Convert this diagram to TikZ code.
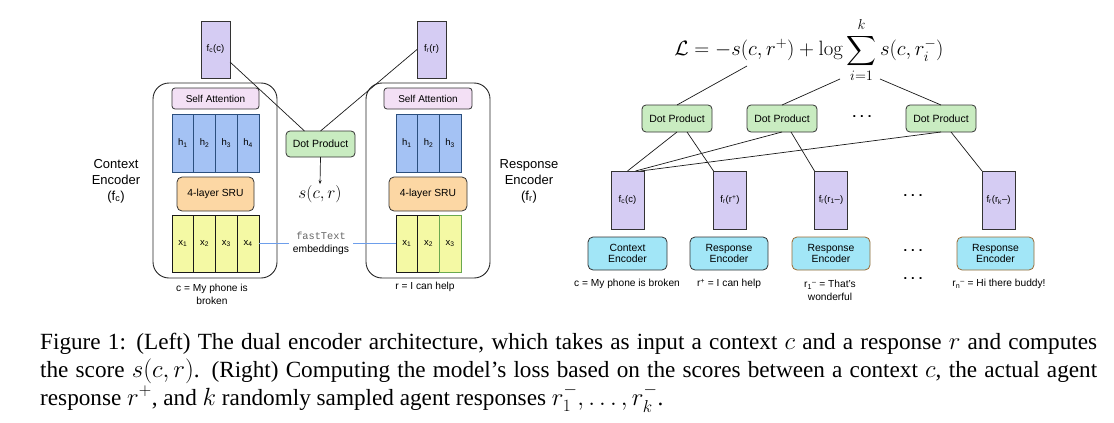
\documentclass[tikz,border=0pt]{standalone}
\usepackage{exscale}
\usepackage[no-math]{fontspec}
\setmainfont{Liberation Serif}
\setsansfont{Liberation Sans}
\setmonofont{Liberation Mono}
\usetikzlibrary{arrows.meta,calc}
\definecolor{vpurple}{HTML}{D5CCF3}
\definecolor{dpgreen}{HTML}{C9ECC1}
\definecolor{enccyan}{HTML}{A2E6F7}
\definecolor{sapink}{HTML}{F3E0F5}
\definecolor{hfill}{HTML}{A4C2F4}
\definecolor{hborder}{HTML}{2B4F7E}
\definecolor{sruorange}{HTML}{FCD7A4}
\definecolor{xyellow}{HTML}{F4F9A4}
\definecolor{brownb}{HTML}{9A6B34}
\definecolor{ftblue}{HTML}{6D9EEB}
\definecolor{xgreen}{HTML}{6AA84F}
\begin{document}
\begin{tikzpicture}[x=1pt,y=-1pt,
  bx/.style={draw=black!80,line width=0.8pt,inner sep=0pt,outer sep=0pt,align=center,font=\sffamily\fontsize{9.5}{11}\selectfont},
  vecbox/.style={bx,fill=vpurple,minimum width=29pt,minimum height=57pt},
  vecboxr/.style={bx,fill=vpurple,minimum width=33pt,minimum height=58pt},
  outerbox/.style={draw=black!85,line width=0.9pt,rounded corners=16pt,minimum width=124pt,minimum height=195pt,inner sep=0pt,outer sep=0pt},
  dotbox/.style={bx,rounded corners=4pt,fill=dpgreen,minimum width=69pt,minimum height=26pt,font=\sffamily\fontsize{10.5}{12}\selectfont},
  dotboxr/.style={dotbox,minimum width=70pt,minimum height=27pt},
  sabox/.style={bx,rounded corners=3pt,fill=sapink,minimum width=87pt,minimum height=21pt,font=\sffamily\fontsize{10}{12}\selectfont},
  srubox/.style={bx,rounded corners=5pt,fill=sruorange,minimum width=77pt,minimum height=34pt,font=\sffamily\fontsize{10.3}{12}\selectfont},
  hcell/.style={bx,draw=hborder,fill=hfill,minimum width=21.75pt,minimum height=58pt},
  xcell/.style={bx,draw=black!90,fill=xyellow,minimum width=21.75pt,minimum height=57pt},
  encbox/.style={bx,rounded corners=5pt,fill=enccyan,minimum width=78pt,minimum height=33pt,font=\sffamily\fontsize{10.4}{11.7}\selectfont},
  lbl/.style={inner sep=0pt,align=center,font=\sffamily\fontsize{10.2}{13}\selectfont},
  biglbl/.style={inner sep=0pt,align=center,font=\sffamily\fontsize{13}{16}\selectfont},
  dotsnode/.style={inner sep=0pt,font=\sffamily\bfseries\fontsize{13}{13}\selectfont},
  conn/.style={draw=black!90,line width=0.7pt},
  caption/.style={inner sep=0pt,anchor=base west,font=\rmfamily\fontsize{23.2}{28}\selectfont}
]
\useasboundingbox (0,0) rectangle (1114,423);

% ---------------- Left: dual encoder ----------------
\node[outerbox] (encL) at (215,180.5) {};
\node[outerbox] (encR) at (428,180.5) {};

\node[vecbox] (fcL) at (215.5,49.5) {f\textsubscript{c}(c)};
\node[vecbox] (frL) at (431.5,49.5) {f\textsubscript{r}(r)};

\node[sabox] (saL) at (215.5,98.5) {Self Attention};
\node[hcell] (hL1) at (182.875,143) {h\textsubscript{1}};
\node[hcell] (hL2) at (204.625,143) {h\textsubscript{2}};
\node[hcell] (hL3) at (226.375,143) {h\textsubscript{3}};
\node[hcell] (hL4) at (248.125,143) {h\textsubscript{4}};
\node[srubox] (sruL) at (215.5,194) {4-layer SRU};
\node[xcell] (xL1) at (182.875,243.5) {x\textsubscript{1}};
\node[xcell] (xL2) at (204.625,243.5) {x\textsubscript{2}};
\node[xcell] (xL3) at (226.375,243.5) {x\textsubscript{3}};
\node[xcell] (xL4) at (248.125,243.5) {x\textsubscript{4}};

\node[sabox,minimum width=88pt] (saR) at (428,98.5) {Self Attention};
\node[hcell,minimum width=21.67pt] (hR1) at (406.83,143) {h\textsubscript{1}};
\node[hcell,minimum width=21.67pt] (hR2) at (428.5,143) {h\textsubscript{2}};
\node[hcell,minimum width=21.67pt] (hR3) at (450.17,143) {h\textsubscript{3}};
\node[srubox,minimum width=78pt] (sruR) at (428,194) {4-layer SRU};
\node[xcell,minimum width=21.67pt] (xR1) at (406.83,243.5) {x\textsubscript{1}};
\node[xcell,minimum width=21.67pt] (xR2) at (428.5,243.5) {x\textsubscript{2}};
\node[xcell,minimum width=21.67pt,draw=xgreen] (xR3) at (450.17,243.5) {x\textsubscript{3}};

\node[biglbl] (ctxlbl) at (116,181) {Context\\Encoder\\(f\textsubscript{c})};
\node[biglbl] (rsplbl) at (529,181) {Response\\Encoder\\(f\textsubscript{r})};
\node[lbl] (cLtxt) at (212,294) {c = My phone is\\broken};
\node[lbl] (rLtxt) at (425,287) {r = I can help};

\node[dotbox] (dpL) at (320.5,144) {Dot Product};
\node[inner sep=1pt,font=\fontsize{18}{20}\selectfont] (scr) at (320,194) {$s(c,r)$};
\draw[conn,-{Stealth[length=4pt,width=3pt]}] (dpL.south) -- (scr.north);
\draw[conn] ([yshift=16pt]fcL.south east) -- ([xshift=-16pt]dpL.north);
\draw[conn] (frL.west) -- (dpL.north);

\node[lbl,font=\sffamily\fontsize{10.3}{12.5}\selectfont] (ft) at (321,243.5) {\textcolor{black!60}{\ttfamily fastText}\\embeddings};
\draw[draw=ftblue,line width=1.1pt] (xL4.east) -- ([xshift=-4pt]ft.west);
\draw[draw=ftblue,line width=1.1pt] ([xshift=4pt]ft.east) -- (xR1.west);

% ---------------- Right: loss computation ----------------
\node[inner sep=0pt,font=\fontsize{20.74}{25}\selectfont] (loss) at (809,50)
  {$\displaystyle \mathcal{L} = -s(c,r^{+}) + \log\sum_{i=1}^{k} s(c,r_i^{-})$};
\coordinate (lossA) at (747,66);
\coordinate (lossB) at (840,79);
\coordinate (lossC) at (880,79);

\node[dotboxr] (dp1) at (677,118.5) {Dot Product};
\node[dotboxr] (dp2) at (782,118.5) {Dot Product};
\node[dotboxr] (dp3) at (941,118.5) {Dot Product};
\node[dotsnode] (dotsA) at (862,117) {.\hspace{4pt}.\hspace{4pt}.};

\node[vecboxr] (fcR) at (627.5,200) {f\textsubscript{c}(c)};
\node[vecboxr] (frP) at (730,200) {f\textsubscript{r}(r\textsuperscript{+})};
\node[vecboxr] (fr1) at (831,200) {f\textsubscript{r}(r\textsubscript{1}--)};
\node[vecboxr] (frk) at (998.5,200) {f\textsubscript{r}(r\textsubscript{k}--)};
\node[dotsnode] (dotsB) at (913,196) {.\hspace{4pt}.\hspace{4pt}.};

\node[encbox,minimum width=79pt] (ceR) at (627.5,253.5) {Context\\Encoder};
\node[encbox] (re1) at (729,253.5) {Response\\Encoder};
\node[encbox,draw=brownb] (re2) at (831,253.5) {Response\\Encoder};
\node[encbox,draw=brownb,minimum width=77pt] (rek) at (995.5,253.5) {Response\\Encoder};
\node[dotsnode] (dotsC) at (913,251) {.\hspace{4pt}.\hspace{4pt}.};
\node[dotsnode] (dotsD) at (913,279) {.\hspace{4pt}.\hspace{4pt}.};

\node[lbl] (cRtxt) at (627,284) {c = My phone is broken};
\node[lbl] (rPtxt) at (729,284) {r\textsuperscript{+} = I can help};
\node[lbl] (r1txt) at (830,290.5) {r\textsubscript{1}\textsuperscript{--} = That's\\wonderful};
\node[lbl] (rntxt) at (999,284) {r\textsubscript{n}\textsuperscript{--} = Hi there buddy!};

\draw[conn] (lossA) -- (dp1.north);
\draw[conn] (lossB) -- (dp2.north);
\draw[conn] (lossC) -- (dp3.north);

\draw[conn] (dp1.south) -- (fcR.north);
\draw[conn] ([xshift=10pt]dp1.south) -- (frP.north west);
\draw[conn] (dp2.south) -- ([xshift=8pt]fcR.north);
\draw[conn] ([xshift=9pt]dp2.south) -- (fr1.north west);
\draw[conn] (dp3.south) -- ([xshift=13pt]fcR.north);
\draw[conn] ([xshift=10pt]dp3.south) -- (frk.north west);

% ---------------- Caption ----------------
\node[caption] (cap1) at (40,349) {\makebox[1057pt][s]{Figure 1: (Left) The dual encoder architecture, which takes as input a context $c$ and a response $r$ and computes}};
\node[caption] (cap2) at (40,377) {\makebox[1057pt][s]{the score $s(c,r)$. (Right) Computing the model’s loss based on the scores between a context $c$, the actual agent}};
\node[caption] (cap3) at (40,405) {response $r^{+}$, and $k$ randomly sampled agent responses $r_1^{-},\ldots,r_k^{-}$.};
\end{tikzpicture}
\end{document}
